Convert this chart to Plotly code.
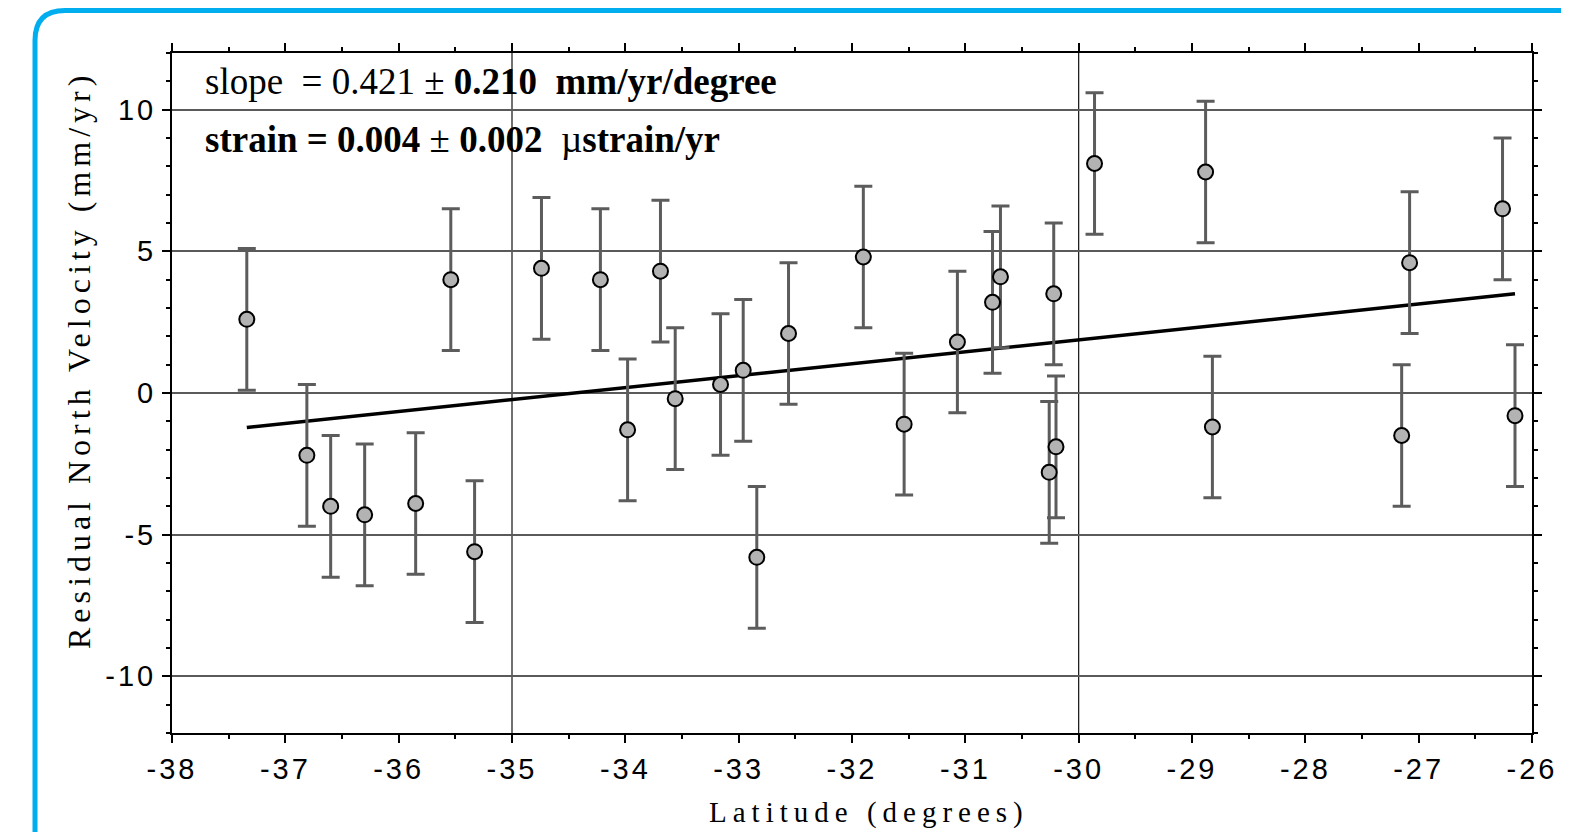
import plotly.graph_objects as go

# ---- data ----
latitude = [-37.34, -36.81, -36.60, -36.30, -35.85, -35.54, -35.33, -34.74, -34.22,
            -33.98, -33.69, -33.56, -33.16, -32.96, -32.84, -32.56, -31.90, -31.54,
            -31.07, -30.76, -30.69, -30.26, -30.22, -30.20, -29.86, -28.88, -28.82,
            -27.15, -27.08, -26.26, -26.15]
residual_north = [2.6, -2.2, -4.0, -4.3, -3.9, 4.0, -5.6, 4.4, 4.0,
                  -1.3, 4.3, -0.2, 0.3, 0.8, -5.8, 2.1, 4.8, -1.1,
                  1.8, 3.2, 4.1, -2.8, 3.5, -1.9, 8.1, 7.8, -1.2,
                  -1.5, 4.6, 6.5, -0.8]
sigma = [2.5, 2.5, 2.5, 2.5, 2.5, 2.5, 2.5, 2.5, 2.5,
         2.5, 2.5, 2.5, 2.5, 2.5, 2.5, 2.5, 2.5, 2.5,
         2.5, 2.5, 2.5, 2.5, 2.5, 2.5, 2.5, 2.5, 2.5,
         2.5, 2.5, 2.5, 2.5]
fit_lat = [-37.34, -26.15]
fit_vel = [-1.22, 3.50]
x_tick_vals = [-38, -37, -36, -35, -34, -33, -32, -31, -30, -29, -28, -27, -26]
y_tick_vals = [-10, -5, 0, 5, 10]
x_grid_vals = [-35, -30]

# ---- geometry (reference-screen pixels) ----
W, H = 1569, 832
OFF = 8  # page body margin shifts the figure by this much
RL, RR, RT, RB = 172, 1532, 53, 733   # plot area on screen
L, R, T, B = RL - OFF, RR - OFF, RT - OFF, RB - OFF
pw, ph = R - L, B - T

def px_x(p):
    return (p - RL) / pw

def px_y(p):
    return (RB - p) / ph

def spaced(s, ls):
    return '<span style="letter-spacing:%.1fpx">%s</span>' % (ls, s)

fig = go.Figure()

fig.add_trace(go.Scatter(
    x=fit_lat, y=fit_vel, mode="lines",
    line=dict(color="black", width=3.5), showlegend=False, hoverinfo="skip"))

fig.add_trace(go.Scatter(
    x=latitude, y=residual_north, mode="markers",
    marker=dict(size=15, color="#b3b3b3", line=dict(color="black", width=2)),
    error_y=dict(type="data", array=sigma, visible=True, color="#5c5c5c",
                 thickness=3, width=9),
    showlegend=False))

tickfont = dict(family="Liberation Sans, Arial", size=29, color="black")

fig.update_xaxes(
    range=[-38, -26], tickmode="array", tickvals=x_tick_vals,
    ticktext=[spaced(str(v), 3) for v in x_tick_vals],
    ticks="outside", ticklen=8, tickwidth=2, tickcolor="black",
    showline=True, linewidth=2, linecolor="black", mirror="allticks",
    showgrid=False, zeroline=False, tickfont=tickfont, ticklabelstandoff=1,
    minor=dict(dtick=0.5, ticks="outside", ticklen=4, tickwidth=2,
               tickcolor="black", showgrid=False))

fig.update_yaxes(
    range=[-12, 12], tickmode="array", tickvals=y_tick_vals,
    ticktext=[spaced(str(v), 3) for v in y_tick_vals],
    ticks="outside", ticklen=8, tickwidth=2, tickcolor="black",
    showline=True, linewidth=2, linecolor="black", mirror="allticks",
    showgrid=True, gridcolor="#5a5a5a", gridwidth=1.5, zeroline=False,
    tickfont=tickfont, ticklabelstandoff=0,
    minor=dict(dtick=1, ticks="outside", ticklen=4, tickwidth=2,
               tickcolor="black", showgrid=False))

shapes = []
for gx in x_grid_vals:
    shapes.append(dict(type="line", xref="x", yref="paper", x0=gx, x1=gx, y0=0, y1=1,
                       line=dict(color="#111111", width=1.2), layer="below"))

# blue rounded frame
fx, fy, rad = 35, 10.5, 30
path = "M %f,%f L %f,%f Q %f,%f %f,%f L %f,%f" % (
    px_x(fx), px_y(900),
    px_x(fx), px_y(fy + rad),
    px_x(fx), px_y(fy), px_x(fx + rad), px_y(fy),
    px_x(1650), px_y(fy))
shapes.append(dict(type="path", xref="paper", yref="paper", path=path,
                   line=dict(color="#00aeef", width=5)))

serif = "Liberation Serif, Times New Roman"
annotations = [
    dict(xref="paper", yref="paper", x=px_x(203), y=px_y(82), xanchor="left",
         yanchor="middle", showarrow=False,
         text="slope \u00a0= 0.421 \u00b1 <b>0.210 \u00a0mm/yr/degree</b>",
         font=dict(family=serif, size=37, color="black")),
    dict(xref="paper", yref="paper", x=px_x(203), y=px_y(139), xanchor="left",
         yanchor="middle", showarrow=False,
         text="<b>strain = 0.004</b> \u00b1 <b>0.002</b> \u00a0\u00b5<b>strain/yr</b>",
         font=dict(family=serif, size=37, color="black")),
    dict(xref="paper", yref="paper", x=px_x(869), y=px_y(812), xanchor="center",
         yanchor="middle", showarrow=False,
         text=spaced("Latitude (degrees)", 6),
         font=dict(family=serif, size=29, color="black")),
    dict(xref="paper", yref="paper", x=px_x(79), y=px_y(360), xanchor="center",
         yanchor="middle", showarrow=False, textangle=-90,
         text=spaced("Residual North Velocity (mm/yr)", 5),
         font=dict(family=serif, size=32, color="black")),
]

fig.update_layout(
    width=W, height=H,
    margin=dict(l=L, r=W - R, t=T, b=H - B, autoexpand=False),
    paper_bgcolor="white", plot_bgcolor="white",
    shapes=shapes, annotations=annotations)

fig.write_html("out.html")
